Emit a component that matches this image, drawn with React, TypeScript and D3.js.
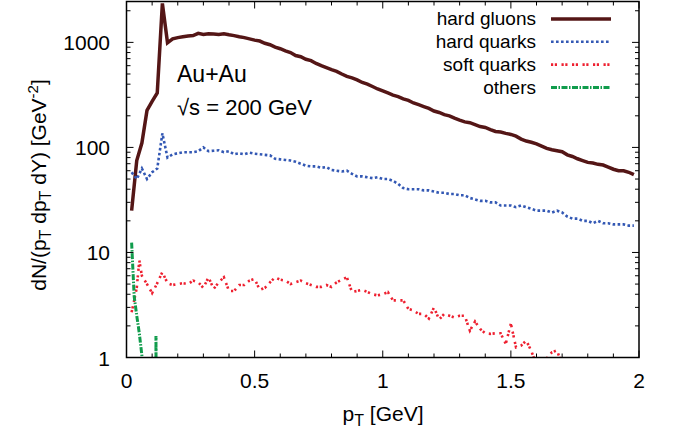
import React from "react";
import * as d3 from "d3";

const pTGrid = [
  0.02, 0.04, 0.06, 0.08, 0.1, 0.12, 0.14, 0.16, 0.18, 0.2, 0.22, 0.24, 0.26, 0.28, 0.3, 0.32, 0.34, 0.36, 0.38, 0.4,
  0.42, 0.44, 0.46, 0.48, 0.5, 0.52, 0.54, 0.56, 0.58, 0.6, 0.62, 0.64, 0.66, 0.68, 0.7, 0.72, 0.74, 0.76, 0.78, 0.8,
  0.82, 0.84, 0.86, 0.88, 0.9, 0.92, 0.94, 0.96, 0.98, 1.0, 1.02, 1.04, 1.06, 1.08, 1.1, 1.12, 1.14, 1.16, 1.18, 1.2,
  1.22, 1.24, 1.26, 1.28, 1.3, 1.32, 1.34, 1.36, 1.38, 1.4, 1.42, 1.44, 1.46, 1.48, 1.5, 1.52, 1.54, 1.56, 1.58, 1.6,
  1.62, 1.64, 1.66, 1.68, 1.7, 1.72, 1.74, 1.76, 1.78, 1.8, 1.82, 1.84, 1.86, 1.88, 1.9, 1.92, 1.94, 1.96, 1.98,
];

const hardGluons = [
  25, 75, 110, 225, 275, 330, 2350, 990, 1080, 1110, 1130, 1150, 1160, 1220, 1190, 1210, 1200, 1190, 1210, 1180,
  1160, 1130, 1110, 1080, 1050, 1030, 980, 950, 900, 870, 830, 800, 750, 730, 690, 670, 630, 600, 575, 550,
  530, 500, 475, 460, 440, 415, 400, 380, 360, 345, 330, 315, 305, 290, 280, 265, 255, 245, 235, 222,
  215, 205, 200, 190, 182, 175, 172, 165, 158, 155, 148, 142, 140, 136, 133, 128, 120, 115, 112, 108,
  103, 98, 95, 93, 91, 85, 82, 78, 75, 72, 71, 69, 68, 65, 62, 60, 60, 58, 55,
];

const hardQuarks = [
  58, 50, 63, 50, 58, 63, 136, 80, 86, 88, 90, 90, 90, 92, 100, 92, 93, 94, 90, 92,
  86, 88, 86, 89, 87, 86, 85, 84, 78, 77, 76, 75, 73, 70, 67, 66, 66, 64, 65, 61,
  60, 59, 60, 56, 53, 53, 52, 51, 52, 50, 50, 48, 45, 41, 40, 40, 40, 39, 39, 38,
  37, 37, 36, 36, 35, 35, 33, 32, 31, 31, 30, 30, 28, 28, 28, 27, 28, 27, 26, 25,
  25, 25, 24, 25, 24, 22, 21, 21, 20, 20, 19, 20, 19, 19, 18.5, 18.5, 18.5, 18, 18,
];

const softPT = [
  0.02, 0.03, 0.04, 0.05, 0.06, 0.08, 0.1, 0.12, 0.14, 0.16, 0.18, 0.2, 0.22, 0.24, 0.26, 0.28, 0.3, 0.32, 0.34,
  0.36, 0.38, 0.4, 0.42, 0.44, 0.46, 0.48, 0.5, 0.52, 0.54, 0.56, 0.58, 0.6, 0.62, 0.64, 0.66, 0.68, 0.7, 0.72,
  0.74, 0.76, 0.78, 0.8, 0.82, 0.84, 0.86, 0.88, 0.9, 0.92, 0.94, 0.96, 0.98, 1.0, 1.02, 1.04, 1.06, 1.08, 1.1,
  1.12, 1.14, 1.16, 1.18, 1.2, 1.22, 1.24, 1.26, 1.28, 1.3, 1.32, 1.34, 1.36, 1.38, 1.4, 1.42, 1.44, 1.46, 1.48,
  1.5, 1.52, 1.54, 1.56, 1.58, 1.6, 1.62, 1.64, 1.66, 1.68, 1.7, 1.72, 1.74,
];
const softQuarks = [
  2.7, 3.5, 4.6, 8.4, 6.0, 5.0, 4.1, 5.1, 6.5, 5.1, 4.9, 5.0, 5.1, 5.0, 5.4, 5.2, 4.6, 5.8, 4.5,
  5.2, 5.8, 4.3, 4.3, 4.9, 4.9, 5.4, 5.6, 4.4, 4.6, 5.2, 5.8, 5.5, 5.4, 5.0, 5.2, 5.4, 5.1, 4.9,
  4.7, 4.7, 4.9, 4.7, 5.2, 5.5, 5.8, 4.2, 4.3, 4.4, 4.2, 4.0, 3.9, 4.0, 4.2, 3.5, 3.5, 3.5, 2.9,
  2.8, 2.6, 2.6, 2.35, 3.0, 2.3, 2.6, 2.5, 2.4, 2.5, 2.5, 1.8, 2.2, 1.87, 1.7, 1.68, 1.7, 1.7, 1.35,
  2.1, 1.25, 1.3, 1.45, 1.15, 0.85, 0.9, 0.98, 1.12, 1.17, 0.85, 0.7, 0.6,
];

const othersPT = [0.02, 0.03, 0.04, 0.05, 0.06, 0.07, 0.1, 0.114, 0.115, 0.117];
const others = [12.4, 3.8, 2.5, 1.7, 1.05, 0.3, 0.05, 0.05, 1.6, 0.05];

const xTickLabels = ["0", "0.5", "1", "1.5", "2"];
const xTickValues = [0, 0.5, 1, 1.5, 2];
const yTickValues = [1, 10, 100, 1000];
const yTickLabels = ["1", "10", "100", "1000"];

const legendNames = ["hard gluons", "hard quarks", "soft quarks", "others"];

const W = 674;
const H = 433;
const L = 126.5;
const R = 639;
const T = 1.5;
const B = 357.5;

const FONT = "'Liberation Sans', Arial, Helvetica, sans-serif";

const styles = [
  { color: "#541616", width: 3.5, dash: "" },
  { color: "#3358b4", width: 2.6, dash: "2.6,2.4" },
  { color: "#ee2030", width: 2.6, dash: "2.2,1.6,2.2,4.5" },
  { color: "#109c4c", width: 3, dash: "6,1.5,1.5,1.5" },
];

export default function App() {
  const x = d3.scaleLinear().domain([0, 2]).range([L, R]);
  const y = d3.scaleLog().domain([1, 2450]).range([B, T]);

  const line = d3
    .line<[number, number]>()
    .x((d) => x(d[0]))
    .y((d) => y(Math.max(d[1], 1e-3)));

  const series: [number, number][][] = [
    pTGrid.map((p, i) => [p, hardGluons[i]] as [number, number]),
    pTGrid.map((p, i) => [p, hardQuarks[i]] as [number, number]),
    softPT.map((p, i) => [p, softQuarks[i]] as [number, number]),
    othersPT.map((p, i) => [p, others[i]] as [number, number]),
  ];

  const xMinor = d3.range(0, 21).map((i) => i / 10);
  const yMinor: number[] = [];
  for (let dec = 1; dec <= 1000; dec *= 10) {
    for (let k = 2; k <= 9; k++) {
      const v = k * dec;
      if (v <= 2450) yMinor.push(v);
    }
  }

  const majorLen = 7;
  const minorLen = 4;

  return (
    <svg
      width={W}
      height={H}
      style={{ position: "absolute", left: 0, top: 0, background: "#fff" }}
      fontFamily={FONT}
    >
      <defs>
        <clipPath id="plotclip">
          <rect x={L} y={T} width={R - L} height={B - T} />
        </clipPath>
      </defs>
      <rect x={0} y={0} width={W} height={H} fill="#fff" />

      {/* ticks */}
      <g stroke="#000" strokeWidth={1}>
        {xMinor.map((v, i) => {
          const isMajor = Math.abs(v * 2 - Math.round(v * 2)) < 1e-6;
          const len = isMajor ? majorLen : minorLen;
          return (
            <g key={"xt" + i}>
              <line x1={x(v)} x2={x(v)} y1={B} y2={B - len} />
              <line x1={x(v)} x2={x(v)} y1={T} y2={T + len} />
            </g>
          );
        })}
        {yTickValues.map((v, i) => (
          <g key={"yt" + i}>
            <line x1={L} x2={L + majorLen} y1={y(v)} y2={y(v)} />
            <line x1={R} x2={R - majorLen} y1={y(v)} y2={y(v)} />
          </g>
        ))}
        {yMinor.map((v, i) => (
          <g key={"ym" + i}>
            <line x1={L} x2={L + minorLen} y1={y(v)} y2={y(v)} />
            <line x1={R} x2={R - minorLen} y1={y(v)} y2={y(v)} />
          </g>
        ))}
      </g>

      {/* data */}
      <g clipPath="url(#plotclip)" fill="none">
        {series.map((s, i) => (
          <path
            key={"s" + i}
            d={line(s) || ""}
            stroke={styles[i].color}
            strokeWidth={styles[i].width}
            strokeDasharray={styles[i].dash || undefined}
            strokeLinejoin="miter"
          />
        ))}
      </g>

      {/* frame */}
      <rect x={L} y={T} width={R - L} height={B - T} fill="none" stroke="#000" strokeWidth={1.5} />

      {/* tick labels */}
      <g fontSize={21} fill="#000">
        {xTickValues.map((v, i) => (
          <text key={"xl" + i} x={x(v)} y={388} textAnchor="middle">
            {xTickLabels[i]}
          </text>
        ))}
        {yTickValues.map((v, i) => (
          <text key={"yl" + i} x={110} y={y(v) + 8} textAnchor="end">
            {yTickLabels[i]}
          </text>
        ))}
      </g>

      {/* axis labels */}
      <text x={383} y={421} textAnchor="middle" fontSize={21} fill="#000">
        p<tspan fontSize={16} dy={5}>T</tspan>
        <tspan dy={-5}> [GeV]</tspan>
      </text>
      <text
        transform={`translate(46,185) rotate(-90)`}
        textAnchor="middle"
        fontSize={21}
        fill="#000"
      >
        dN/(p<tspan fontSize={16} dy={5}>T</tspan>
        <tspan dy={-5}> dp</tspan>
        <tspan fontSize={16} dy={5}>T</tspan>
        <tspan dy={-5}> dY) [GeV</tspan>
        <tspan fontSize={15} dy={-8}>-2</tspan>
        <tspan dy={8}>]</tspan>
      </text>

      {/* annotations */}
      <text x={177} y={82} fontSize={23} fill="#000">Au+Au</text>
      <text x={177} y={115} fontSize={22} fill="#000">√s = 200 GeV</text>

      {/* legend */}
      <g fontSize={19} fill="#000">
        {legendNames.map((n, i) => (
          <g key={"lg" + i}>
            <text x={536} y={25 + i * 23} textAnchor="end">
              {n}
            </text>
            <line
              x1={551}
              x2={611}
              y1={19 + i * 22.8}
              y2={19 + i * 22.8}
              stroke={styles[i].color}
              strokeWidth={styles[i].width}
              strokeDasharray={styles[i].dash || undefined}
            />
          </g>
        ))}
      </g>
    </svg>
  );
}
